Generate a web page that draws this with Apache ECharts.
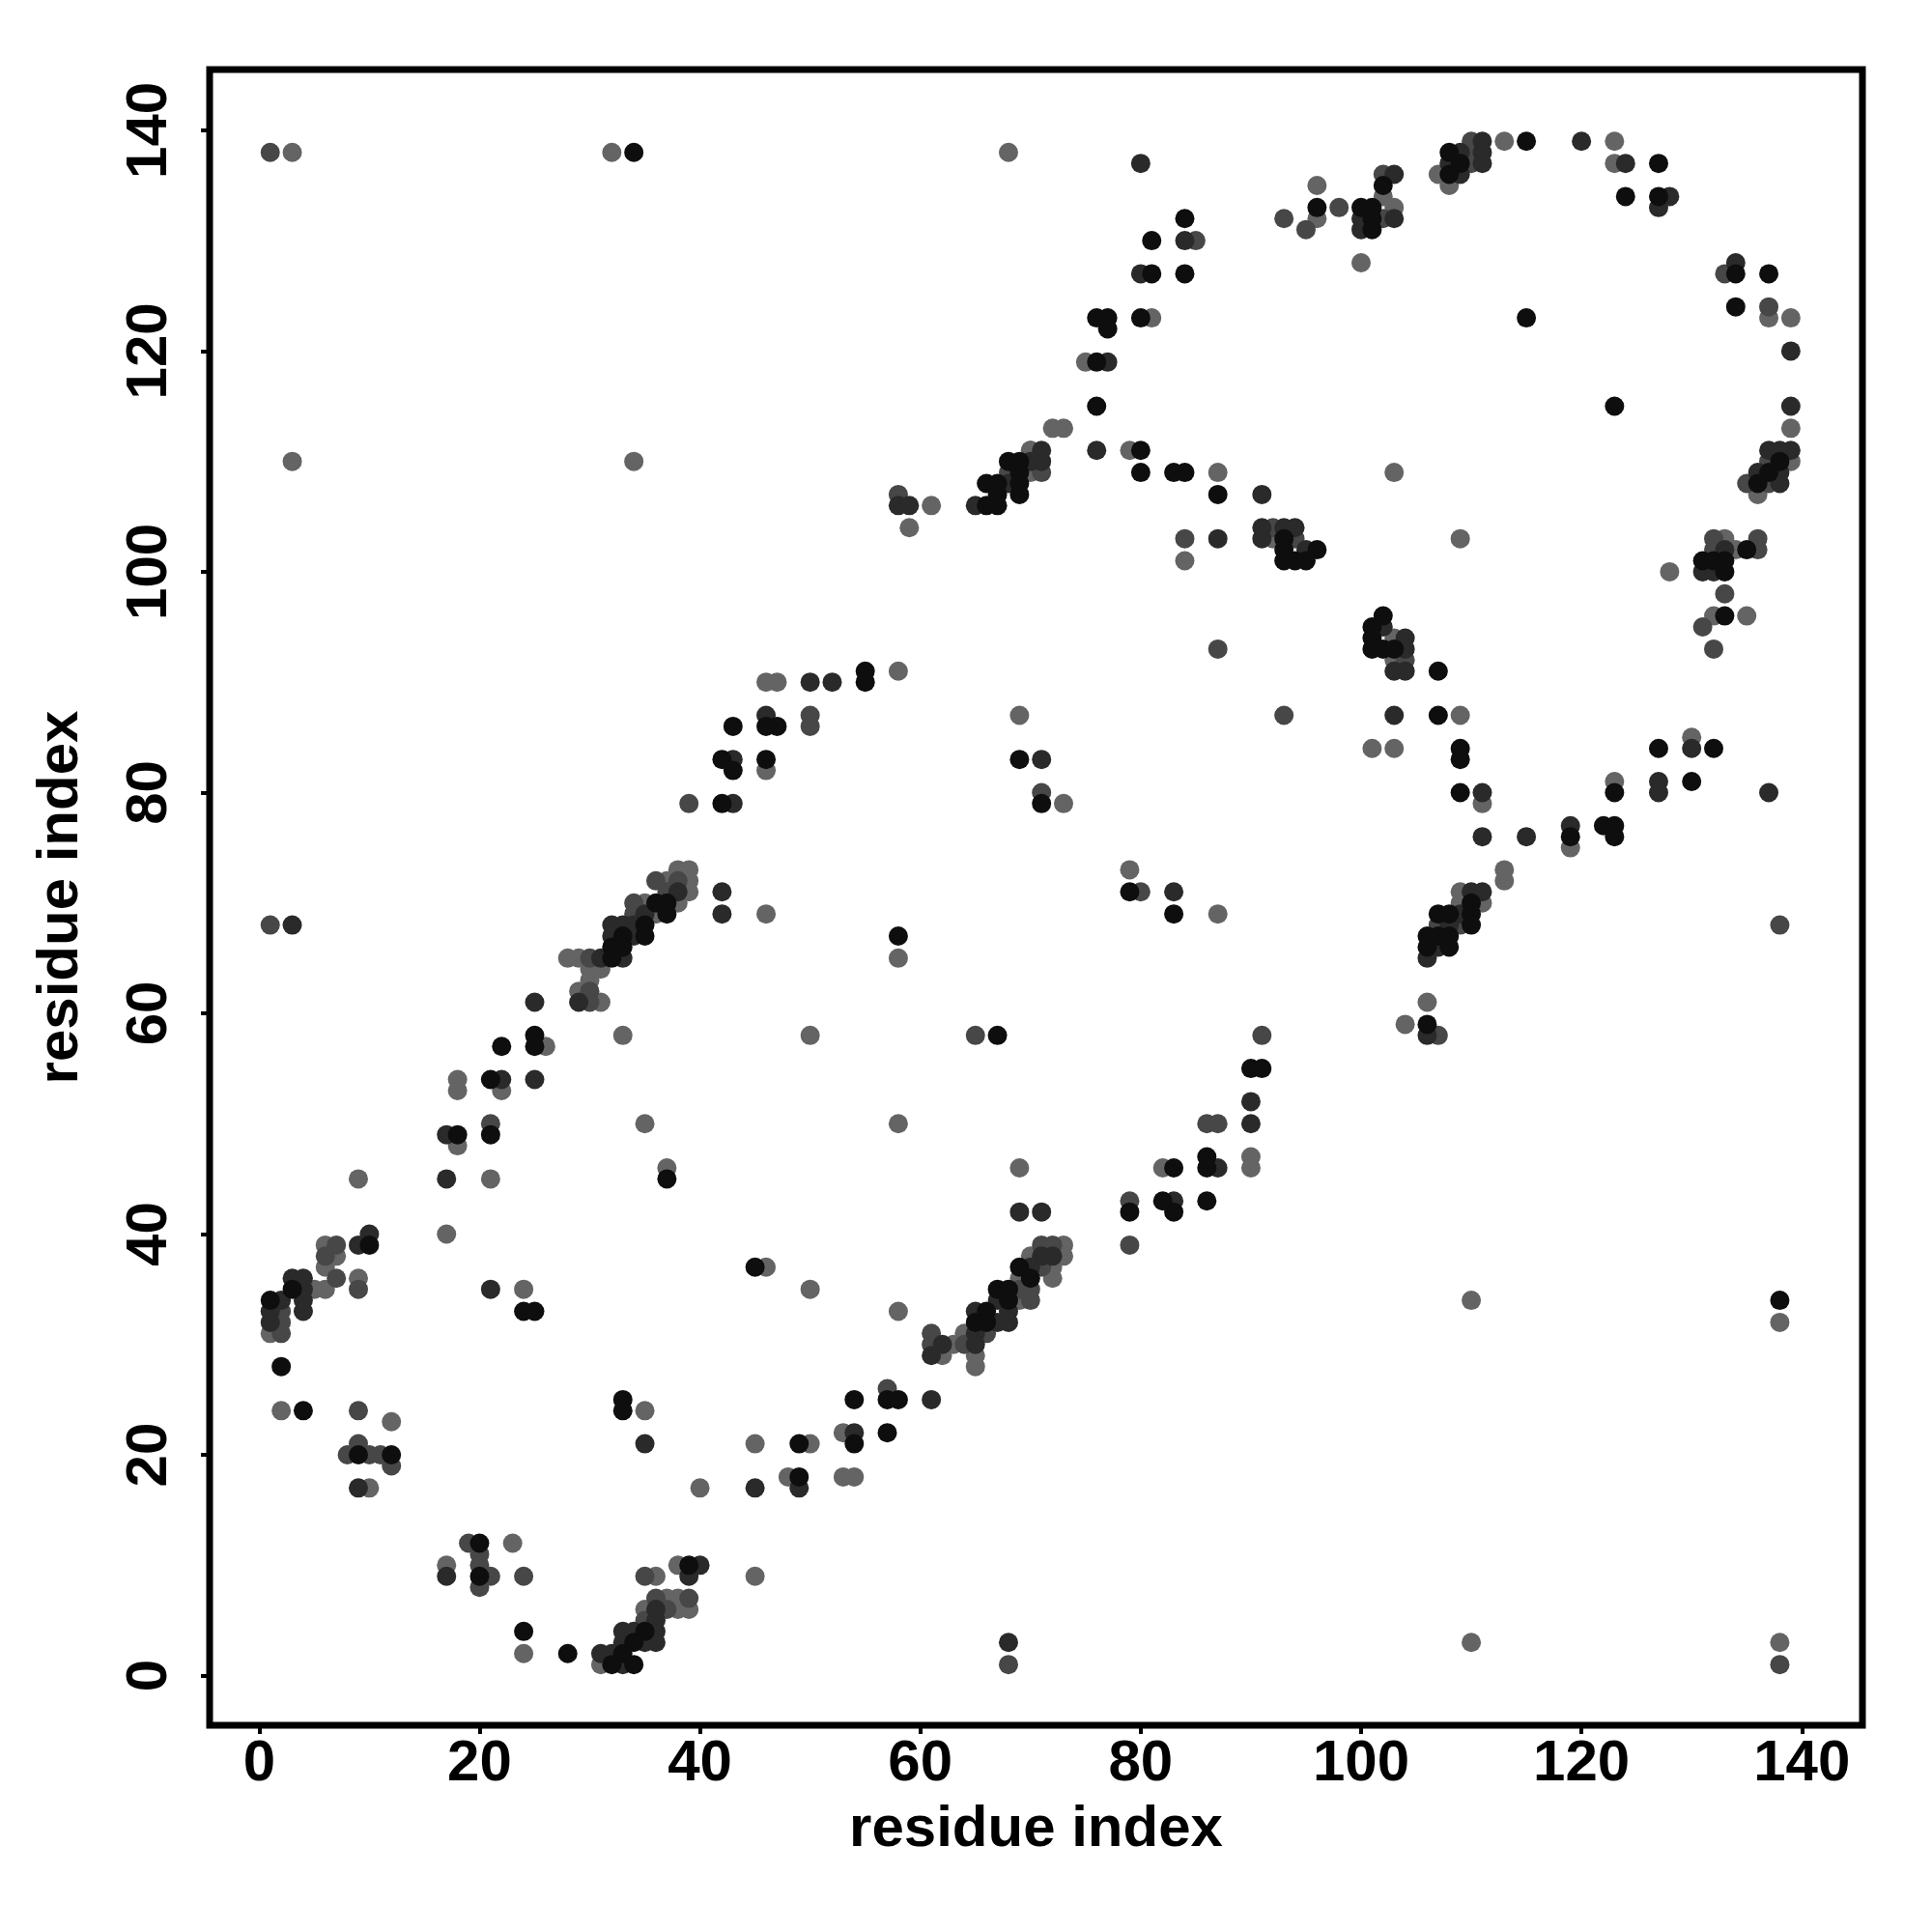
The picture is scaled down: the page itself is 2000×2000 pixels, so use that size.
<!DOCTYPE html>
<html>
<head>
<meta charset="utf-8">
<script src="https://cdn.jsdelivr.net/npm/echarts@6/dist/echarts.min.js"></script>
<style>html,body{margin:0;padding:0;background:#fff}#c{width:2000px;height:2000px}</style>
</head>
<body>
<div id="c"></div>
<script>
// residue index tick labels
var tickValues = [0, 20, 40, 60, 80, 100, 120, 140];

// contacts, grouped by shade (x = residue i, y = residue j)
var grayContacts = [
[3,138],[32,138],[3,110],[34,110],[68,138],[96,135],[96,132],[75,119],[72,113],[73,113],[79,111],[70,111],[81,123],
[70,109],[87,109],[61,106],[59,104],[84,101],[92,103],[58,91],[47,90],[46,90],[69,87],[46,82],[73,79],[79,73],[87,69],
[46,69],[38,73],[39,73],[37,72],[39,72],[35,70],[38,70],[39,71],[36,69],[28,65],[29,65],[30,64],[31,64],[30,63],[29,62],
[31,61],[33,58],[26,57],[18,54],[18,53],[22,53],[18,48],[35,50],[37,46],[9,45],[21,45],[17,40],[46,37],[6,39],[7,38],
[6,37],[9,36],[5,35],[6,35],[24,35],[1,31],[2,24],[12,23],[10,17],[35,24],[45,9],[40,17],[23,12],[17,10],[24,2],[38,10],
[38,7],[37,7],[39,6],[38,6],[35,6],[31,1],[58,65],[50,58],[58,50],[90,47],[90,46],[82,46],[69,46],[73,39],[70,38],[73,38],
[72,37],[72,36],[69,36],[69,34],[50,35],[58,33],[63,30],[64,31],[62,29],[65,29],[65,28],[53,22],[50,21],[48,18],[53,18],
[54,18],[113,139],[123,139],[123,137],[107,136],[108,135],[102,134],[103,133],[100,128],[137,123],[139,123],[139,113],
[103,109],[139,110],[136,107],[109,103],[133,103],[134,102],[128,100],[132,96],[135,96],[103,94],[103,92],[109,87],
[101,84],[103,84],[111,79],[123,81],[130,85],[119,75],[113,73],[113,72],[109,71],[109,70],[111,70],[106,61],[104,59],
[110,34],[138,32],[110,3],[138,3],[45,21],[36,9],[70,111]
];
var mediumContacts = [
[1,138],[93,132],[95,131],[85,130],[71,109],[68,109],[58,107],[84,103],[92,104],[94,103],[93,87],[50,87],[50,86],[71,80],
[80,71],[39,79],[36,72],[38,72],[34,70],[37,71],[34,69],[1,68],[30,65],[30,62],[30,61],[21,50],[7,39],[6,38],[7,36],
[9,35],[2,33],[2,32],[2,31],[9,24],[9,21],[8,20],[10,20],[11,20],[19,12],[20,11],[20,10],[21,9],[24,9],[20,8],[35,9],
[36,7],[39,7],[37,6],[35,5],[91,58],[65,58],[79,43],[79,39],[71,39],[72,39],[69,35],[70,35],[70,34],[66,31],[61,31],
[61,30],[64,30],[57,26],[68,1],[110,139],[110,138],[110,137],[102,136],[98,133],[102,132],[133,127],[137,124],[135,108],
[137,108],[137,110],[138,68],[132,103],[136,103],[132,102],[136,102],[133,98],[131,95],[132,93],[104,92],[107,58],
[109,68],[107,68],[87,93],[86,50],[87,50],[71,37],[138,1],[12,19]
];
var darkContacts = [
[80,137],[84,130],[80,127],[77,119],[76,111],[71,110],[71,111],[70,110],[68,108],[91,107],[58,106],[59,106],[65,106],
[87,103],[91,104],[93,104],[94,104],[91,103],[95,102],[52,90],[50,90],[46,87],[71,83],[83,71],[43,83],[43,79],[42,71],
[42,69],[38,71],[35,69],[3,68],[32,68],[33,68],[34,68],[34,67],[32,67],[31,65],[33,65],[29,61],[25,61],[22,54],[25,54],
[17,49],[17,45],[10,40],[9,39],[3,36],[4,36],[4,35],[2,34],[4,34],[1,33],[4,33],[21,35],[1,32],[9,17],[35,21],
[45,17],[40,10],[39,9],[17,9],[36,6],[36,5],[36,4],[33,4],[34,4],[36,3],[33,3],[35,3],[31,2],[32,2],[33,1],[90,52],
[90,50],[87,46],[83,43],[69,42],[71,42],[71,38],[72,38],[70,37],[67,34],[65,33],[68,33],[68,32],[67,32],[65,31],[62,30],
[65,30],[61,29],[61,25],[54,22],[49,17],[68,3],[111,139],[120,139],[124,137],[128,134],[109,138],[111,138],[108,137],
[111,137],[109,136],[103,136],[103,132],[100,132],[100,131],[134,128],[139,120],[139,115],[137,111],[138,111],[139,111],
[136,109],[138,109],[138,108],[133,102],[131,100],[132,100],[102,95],[104,94],[104,93],[103,91],[104,91],[103,87],
[111,80],[127,81],[127,80],[130,84],[137,80],[111,76],[115,76],[119,77],[110,71],[111,71],[109,69],[108,68],[107,66],
[106,65],[106,58],[127,133]
];
var blackContacts = [
[34,138],[84,132],[81,130],[84,127],[81,127],[76,123],[77,123],[77,122],[80,123],[76,119],[76,115],[80,111],[68,110],
[69,110],[69,109],[80,109],[83,109],[84,109],[87,107],[66,108],[67,108],[69,108],[67,107],[69,107],[66,106],[67,106],
[93,103],[93,102],[96,102],[93,101],[94,101],[95,101],[55,91],[55,90],[47,86],[46,86],[46,83],[69,83],[71,79],[79,71],
[83,69],[43,86],[42,83],[43,82],[42,79],[36,70],[37,70],[37,69],[35,68],[35,67],[33,67],[32,66],[33,66],[32,65],[25,58],
[25,57],[22,57],[21,54],[21,49],[18,49],[37,45],[45,37],[10,39],[3,35],[1,34],[24,33],[25,33],[2,28],[4,24],[9,20],
[12,20],[33,25],[33,24],[20,12],[20,9],[39,10],[24,4],[28,2],[35,4],[34,3],[33,2],[32,1],[34,1],[58,67],[67,58],[90,55],
[91,55],[83,46],[86,47],[86,46],[79,42],[82,43],[83,42],[86,43],[69,37],[70,36],[67,35],[68,35],[68,34],[66,33],[65,32],
[66,32],[54,25],[57,25],[58,25],[54,21],[57,22],[49,21],[49,18],[115,139],[127,137],[124,134],[127,134],[108,138],
[109,137],[108,136],[102,135],[100,133],[101,133],[101,132],[101,131],[115,123],[134,127],[137,127],[134,124],[123,115],
[138,110],[137,109],[136,108],[96,133],[135,102],[131,101],[132,101],[133,101],[133,100],[133,96],[102,96],[101,95],
[101,94],[101,93],[102,93],[103,93],[107,91],[107,87],[109,84],[109,83],[109,80],[123,80],[127,84],[132,84],[130,81],
[119,76],[122,77],[123,77],[123,76],[110,70],[107,69],[108,69],[110,69],[110,68],[106,67],[107,67],[108,67],[106,66],
[108,66],[106,59],[138,34]
];

var FONT = '"Liberation Sans", Arial, Helvetica, sans-serif';
var chart = echarts.init(document.getElementById('c'), null, {renderer: 'canvas'});

function axisCommon(extra) {
  var base = {
    type: 'value',
    min: -4.5,
    max: 145.5,
    name: 'residue index',
    nameLocation: 'middle',
    nameTextStyle: {fontSize: 60, fontWeight: 'bold', color: '#000', fontFamily: FONT},
    axisLine: {show: false, onZero: false},
    splitLine: {show: false},
    axisTick: {show: true, inside: false, length: 9, customValues: tickValues,
      lineStyle: {color: '#000', width: 4}},
    axisLabel: {show: true, customValues: tickValues, fontSize: 60, fontWeight: 'bold',
      color: '#000', fontFamily: FONT}
  };
  for (var k in extra) {
    if (typeof extra[k] === 'object' && base[k] && !Array.isArray(extra[k])) {
      for (var j in extra[k]) base[k][j] = extra[k][j];
    } else base[k] = extra[k];
  }
  return base;
}

function mk(data, color) {
  return {
    type: 'scatter',
    data: data,
    symbol: 'circle',
    symbolSize: 20,
    itemStyle: {color: color, opacity: 1},
    emphasis: {disabled: true},
    silent: true
  };
}

chart.setOption({
  animation: false,
  backgroundColor: '#fff',
  grid: {left: 217, right: 72, top: 72, bottom: 214, show: true,
    borderColor: '#000', borderWidth: 7, backgroundColor: 'transparent'},
  xAxis: axisCommon({nameGap: 78, axisLabel: {margin: 10}}),
  yAxis: axisCommon({nameGap: 124, axisLabel: {margin: 32, rotate: 90}}),
  series: [
    mk(grayContacts, '#646464'),
    mk(mediumContacts, '#474747'),
    mk(darkContacts, '#2a2a2a'),
    mk(blackContacts, '#0e0e0e')
  ]
});
</script>
</body>
</html>
